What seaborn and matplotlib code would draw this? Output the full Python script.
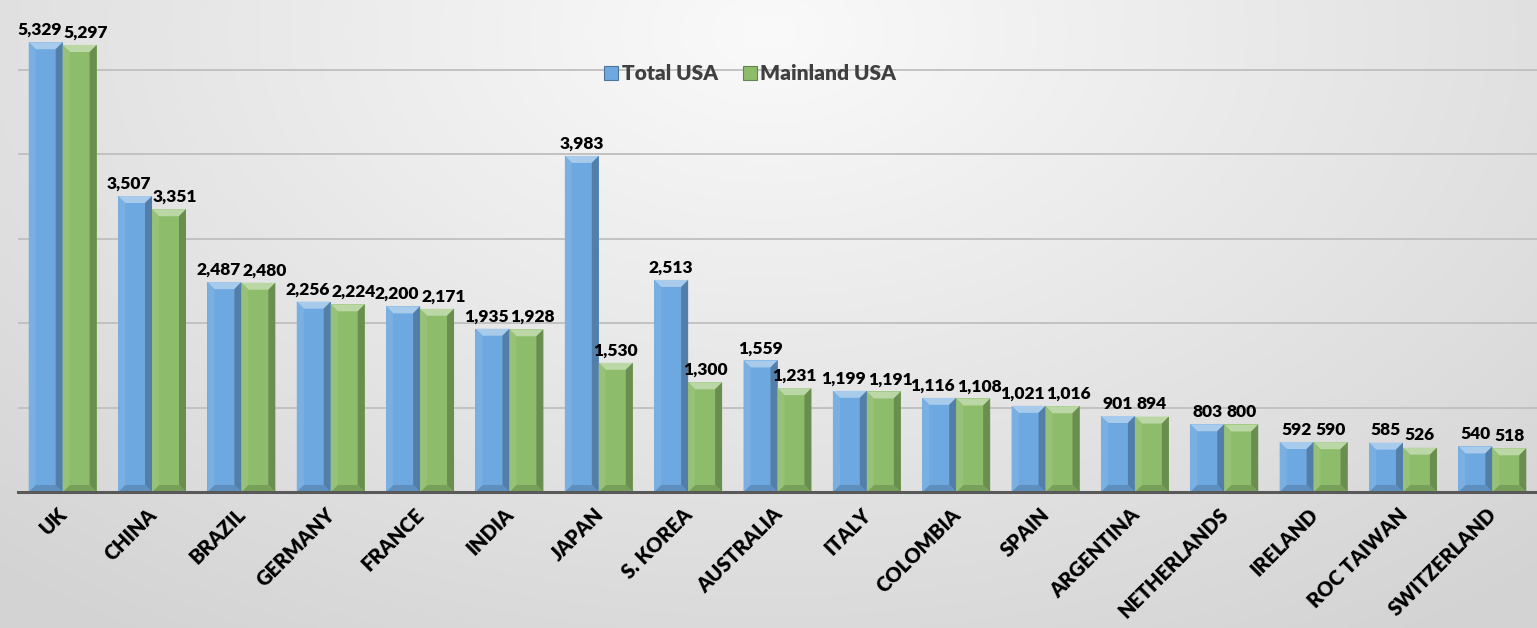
import numpy as np
import pandas as pd
import matplotlib
matplotlib.use("Agg")
import matplotlib.pyplot as plt
from matplotlib.patches import Polygon, Patch
from matplotlib.colors import to_rgb
from matplotlib.transforms import ScaledTranslation
import seaborn as sns

countries = ["UK", "CHINA", "BRAZIL", "GERMANY", "FRANCE", "INDIA", "JAPAN",
             "S. KOREA", "AUSTRALIA", "ITALY", "COLOMBIA", "SPAIN", "ARGENTINA",
             "NETHERLANDS", "IRELAND", "ROC TAIWAN", "SWITZERLAND"]
total_usa = [5329, 3507, 2487, 2256, 2200, 1935, 3983, 2513, 1559, 1199,
             1116, 1021, 901, 803, 592, 585, 540]
mainland_usa = [5297, 3351, 2480, 2224, 2171, 1928, 1530, 1300, 1231, 1191,
                1108, 1016, 894, 800, 590, 526, 518]
series_names = ["Total USA", "Mainland USA"]
series_colors = ["#6EA8E0", "#8DBC6A"]

df = pd.DataFrame({
    "country": countries * 2,
    "value": total_usa + mainland_usa,
    "series": [series_names[0]] * len(countries) + [series_names[1]] * len(countries),
})

sns.set_theme(style="white")
plt.rcParams["font.family"] = ["Lato", "DejaVu Sans"]

W, H = 1537, 628
fig = plt.figure(figsize=(W / 100, H / 100), dpi=100)

# soft radial background, lightest near the top centre
bg = fig.add_axes([0, 0, 1, 1], zorder=-10)
yy, xx = np.mgrid[0:1:300j, 0:1:700j]
r = np.sqrt(((xx - 0.5) / 0.65) ** 2 + ((yy - 0.05) / 1.0) ** 2)
shade = np.clip(0.98 - 0.13 * r, 0.83, 0.98)
bg.imshow(np.dstack([shade] * 3), aspect="auto", extent=[0, 1, 0, 1], origin="upper")
bg.set_axis_off()

ax_left = 18 / W
ax_bottom = (H - 492) / H
ax = fig.add_axes([ax_left, ax_bottom, 1 - ax_left, 1 - ax_bottom])
ax.set_facecolor("none")

sns.barplot(data=df, x="country", y="value", hue="series", order=countries,
            hue_order=series_names, palette=series_colors, width=0.76,
            saturation=1, ax=ax, legend=False, edgecolor="none", linewidth=0,
            zorder=3)

ymax = 5830
ax.set_ylim(0, ymax)
ax.set_xlim(-0.5, len(countries) - 0.5)
ax.set_yticks(np.arange(1000, 6000, 1000))
ax.set_yticklabels([])
ax.yaxis.grid(True, color="#BFBFBF", linewidth=1.3, zorder=0)
ax.set_axisbelow(True)
for side in ["left", "right", "top"]:
    ax.spines[side].set_visible(False)
ax.spines["bottom"].set_color("#595959")
ax.spines["bottom"].set_linewidth(2.2)
ax.spines["bottom"].set_zorder(6)
ax.tick_params(axis="both", length=0)
ax.set_xlabel("")
ax.set_ylabel("")
ax.set_xticks(range(len(countries)))
ax.set_xticklabels(countries, rotation=45, ha="right", va="top",
                   rotation_mode="anchor", fontsize=14.5, fontweight="heavy",
                   color="black")
ax.tick_params(axis="x", pad=9)
for lab in ax.get_xticklabels():
    lab.set_transform(lab.get_transform() + ScaledTranslation(-4 / 72, 0, fig.dpi_scale_trans))


def mix(c, target, t):
    c = np.array(to_rgb(c))
    return tuple(c + (np.array(target) - c) * t)


# bevel facets on each bar
bevel_px = 7
ax_w_px = (1 - ax_left) * W
ax_h_px = (1 - ax_bottom) * H
bx = bevel_px * len(countries) / ax_w_px
by = bevel_px * ymax / ax_h_px
for cont, col in zip(ax.containers, series_colors):
    for rect in cont:
        x0 = rect.get_x()
        x1 = x0 + rect.get_width()
        top = rect.get_height()
        facets = [
            ([(x0, top), (x1, top), (x1 - bx, top - by), (x0 + bx, top - by)], mix(col, (1, 1, 1), 0.4)),
            ([(x1, top), (x1, 0), (x1 - bx, by), (x1 - bx, top - by)], mix(col, (0, 0, 0), 0.25)),
            ([(x0, 0), (x1, 0), (x1 - bx, by), (x0 + bx, by)], mix(col, (0, 0, 0), 0.15)),
            ([(x0, top), (x0, 0), (x0 + bx, by), (x0 + bx, top - by)], mix(col, (1, 1, 1), 0.08)),
        ]
        for pts, fc in facets:
            ax.add_patch(Polygon(pts, closed=True, facecolor=fc, edgecolor="none", zorder=4))

label_sets = []
for cont in ax.containers:
    label_sets.append(ax.bar_label(cont, labels=[f"{int(v):,}" for v in cont.datavalues],
                                   padding=3, fontsize=12.5, fontweight="heavy",
                                   color="black", zorder=7))

# push apart paired labels that collide
fig.canvas.draw()
renderer = fig.canvas.get_renderer()
for a, b in zip(*label_sets):
    ba = a.get_window_extent(renderer)
    bb = b.get_window_extent(renderer)
    vert = min(ba.y1, bb.y1) - max(ba.y0, bb.y0)
    over = ba.x1 - bb.x0 + 2
    if vert > 0 and over > 0:
        shift = over / 2
        a.xyann = (a.xyann[0] - shift * 72 / 100, a.xyann[1])
        b.xyann = (b.xyann[0] + shift * 72 / 100, b.xyann[1])

handles = [Patch(facecolor=c, edgecolor=mix(c, (0, 0, 0), 0.3), linewidth=0.8)
           for c in series_colors]
leg = ax.legend(handles, series_names, ncol=2, frameon=False, loc="center",
                bbox_to_anchor=(0.482, 0.85), handlelength=0.7, handleheight=0.7,
                handletextpad=0.15, columnspacing=1.2,
                prop={"size": 15, "weight": "heavy"})
for t in leg.get_texts():
    t.set_color("#404040")

fig.savefig("out.png", dpi=100)
